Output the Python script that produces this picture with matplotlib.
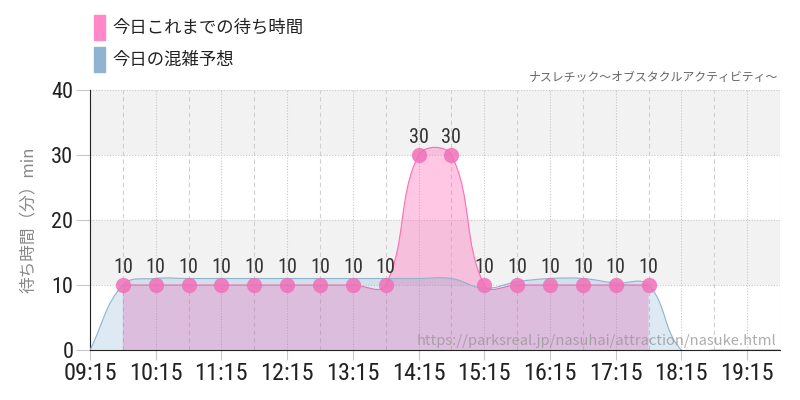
import numpy as np
import matplotlib
matplotlib.use("Agg")
import matplotlib.pyplot as plt
from matplotlib.path import Path
from matplotlib.patches import PathPatch, Rectangle

plt.rcParams['font.family'] = ['Noto Sans CJK JP', 'DejaVu Sans']

# -------------------------------------------------------------------- #
# data (hours as decimal: 9.25 = 09:15)
actual_time = [9.75, 10.25, 10.75, 11.25, 11.75, 12.25, 12.75, 13.25, 13.75,
               14.25, 14.75, 15.25, 15.75, 16.25, 16.75, 17.25, 17.75]
actual_wait = [10, 10, 10, 10, 10, 10, 10, 10, 10,
               30, 30, 10, 10, 10, 10, 10, 10]

forecast_time = [9.25, 9.75, 10.25, 10.75, 11.25, 11.75, 12.25, 12.75, 13.25,
                 13.75, 14.25, 14.75, 15.25, 15.75, 16.25, 16.75, 17.25, 17.75,
                 18.25, 18.75, 19.25, 19.75]
forecast_wait = [0, 10, 11, 11, 11, 11, 11, 11, 11,
                 11, 11, 11, 9.5, 10.5, 11, 11, 10.3, 10,
                 0, 0, 0, 0]

tick_pos = [9.25, 10.25, 11.25, 12.25, 13.25, 14.25, 15.25, 16.25, 17.25, 18.25, 19.25]
tick_labels = ['09:15', '10:15', '11:15', '12:15', '13:15', '14:15',
               '15:15', '16:15', '17:15', '18:15', '19:15']

legend_labels = ['今日これまでの待ち時間', '今日の混雑予想']
title = 'ナスレチック〜オブスタクルアクティビティ〜'
url = 'https://parksreal.jp/nasuhai/attraction/nasuke.html'

PINK = '#ff88c8'
BLUE = '#8fb3d0'
NUM_FONT = ['Roboto Condensed', 'DejaVu Sans']


def spline_path(ax, xs, ys, tension=0.4):
    # chart.js style bezier smoothing, computed in pixel space
    pts = ax.transData.transform(np.column_stack([xs, ys]))
    n = len(pts)
    cps = []
    for i in range(n):
        prev = pts[max(i - 1, 0)]
        cur = pts[i]
        nxt = pts[min(i + 1, n - 1)]
        d01 = np.hypot(*(cur - prev))
        d12 = np.hypot(*(nxt - cur))
        tot = d01 + d12
        fa = tension * d01 / tot if tot else 0
        fb = tension * d12 / tot if tot else 0
        cps.append((cur - fa * (nxt - prev), cur + fb * (nxt - prev)))
    verts = [pts[0]]
    codes = [Path.MOVETO]
    for i in range(n - 1):
        verts += [cps[i][1], cps[i + 1][0], pts[i + 1]]
        codes += [Path.CURVE4] * 3
    line_verts = ax.transData.inverted().transform(np.array(verts))
    line = Path(line_verts, codes)
    fill_verts = list(line_verts) + [(xs[-1], 0), (xs[0], 0), (xs[0], ys[0])]
    fill_codes = codes + [Path.LINETO, Path.LINETO, Path.CLOSEPOLY]
    fill = Path(fill_verts, fill_codes)
    return line, fill


# -------------------------------------------------------------------- #
def main():
    fig = plt.figure(figsize=(8, 4), dpi=100)
    ax = fig.add_axes([0.1125, 0.125, 0.8625, 0.65])
    ax.set_xlim(9.25, 19.75)
    ax.set_ylim(0, 40)

    # alternating bands
    for y0 in (10, 30):
        ax.axhspan(y0, y0 + 10, color='#f2f2f2', zorder=0, lw=0)

    # grid
    for y in (10, 20, 30, 40):
        ax.axhline(y, color='#c8c8c8', lw=0.8, ls=(0, (1, 1.5)), zorder=1)
    for x in np.arange(9.25, 19.8, 0.5):
        if abs((x - 9.25) % 1) < 1e-6:
            ax.axvline(x, color='#c8c8c8', lw=0.8, ls=(0, (1, 1.5)), zorder=1)
        else:
            ax.axvline(x, color='#d0d0d0', lw=0.8, ls=(0, (4, 3)), zorder=1)

    # actual (pink) below, forecast (blue) drawn over it
    line_a, fill_a = spline_path(ax, actual_time, actual_wait)
    ax.add_patch(PathPatch(fill_a, facecolor=(1.0, 0.41, 0.71), alpha=0.37, lw=0, zorder=2))
    ax.add_patch(PathPatch(line_a, facecolor='none', edgecolor='#ff6cb6', lw=0.8, zorder=3))

    line_f, fill_f = spline_path(ax, forecast_time, forecast_wait)
    ax.add_patch(PathPatch(fill_f, facecolor=(0.35, 0.59, 0.78), alpha=0.2, lw=0, zorder=4))
    ax.add_patch(PathPatch(line_f, facecolor='none', edgecolor=BLUE, lw=0.8, zorder=5))

    ax.plot(actual_time, actual_wait, 'o', ms=11, color='#f070b8', alpha=0.85,
            mec='none', zorder=6, clip_on=False)
    for x, y in zip(actual_time, actual_wait):
        ax.annotate(str(y), (x, y), xytext=(0, 5.5), textcoords='offset points',
                    ha='center', va='bottom', fontsize=14.5, color='#333333',
                    family=NUM_FONT, zorder=7)

    # axes
    for s in ('top', 'right'):
        ax.spines[s].set_visible(False)
    ax.spines['left'].set_color('#222222')
    ax.spines['bottom'].set_color('#222222')
    ax.set_yticks([0, 10, 20, 30, 40])
    ax.set_xticks(tick_pos)
    ax.set_xticklabels(tick_labels)
    ax.tick_params(axis='y', length=10, pad=2, labelsize=16)
    ax.tick_params(axis='x', length=7, pad=2, labelsize=17.5)
    ax.tick_params(axis='both', color='#c8c8c8', labelcolor='#222222')
    for lab in ax.get_xticklabels() + ax.get_yticklabels():
        lab.set_family(NUM_FONT)
    ax.set_ylabel('待ち時間（分）min', fontsize=12, color='#888888', labelpad=10)

    fig.text(0.973, 0.805, title, ha='right', va='center', fontsize=8.6, color='#666666')
    ax.text(0.995, 0.035, url, transform=ax.transAxes, ha='right', va='center',
            fontsize=10.6, color='#999999', alpha=0.8, zorder=8)

    # legend
    for i, (lab, c) in enumerate(zip(legend_labels, [PINK, BLUE])):
        y = 400 - 15 - 32 * i
        fig.patches.append(Rectangle((94 / 800, (y - 25) / 400), 11 / 800, 25 / 400,
                                     transform=fig.transFigure, color=c))
        fig.text(112 / 800, (y - 12.5) / 400, lab, va='center', fontsize=12.5,
                 color='#222222')

    fig.savefig('out.png', dpi=100)


if __name__ == "__main__":
    main()
